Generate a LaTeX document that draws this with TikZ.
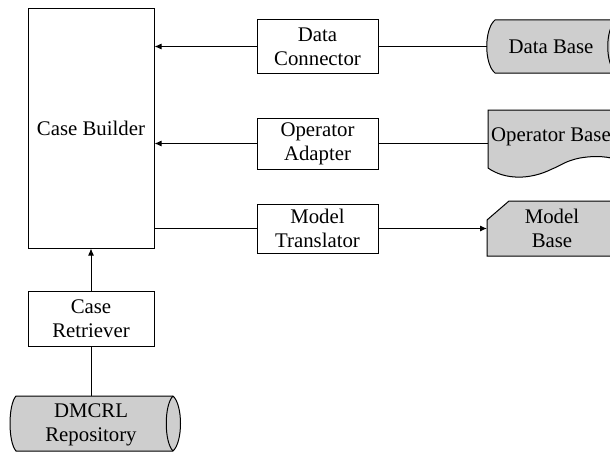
\documentclass[tikz,border=0pt]{standalone}
\usepackage{fontspec}
\setmainfont{Liberation Serif}
\usetikzlibrary{arrows.meta}
\definecolor{storefill}{RGB}{206,206,206}
\begin{document}
\begin{tikzpicture}[x=1pt,y=-1pt,
  lbl/.style={font=\fontsize{20.8}{24}\selectfont, align=center, inner sep=0pt},
  proc/.style={lbl, draw, line width=1pt, minimum width=121pt, minimum height=51pt},
  tall/.style={lbl, draw, line width=1pt, minimum width=126pt},
  store/.style={draw, line width=1pt, fill=storefill},
  link/.style={line width=1pt},
  flow/.style={link, -{Latex[length=7pt,width=6pt]}}]
\useasboundingbox (0,0) rectangle (610,452);

% --- storage shapes ---
% Data Base: horizontal cylinder, right end runs past the page edge
\draw[store] (495,20) -- (616,20) .. controls (627,29) and (627,64) .. (616,73)
  -- (495,73) .. controls (484,64) and (484,29) .. (495,20) -- cycle;
\draw[line width=1pt] (616,20) .. controls (605,29) and (605,64) .. (616,73);
% Operator Base: document shape with wavy bottom
\draw[store] (488,110) -- (620,110) -- (620,160)
  .. controls (608,157) and (598,155) .. (580,158)
  .. controls (565,161) and (560,166) .. (552,169)
  .. controls (530,180) and (505,180) .. (488,168) -- cycle;
% Model Base: card with cut corner
\draw[store] (509,201) -- (620,201) -- (620,256) -- (487,256) -- (487,220) -- cycle;
% DMCRL Repository: horizontal cylinder
\draw[store] (16,396) -- (173,396) .. controls (183,405) and (183,442) .. (173,451)
  -- (16,451) .. controls (8,442) and (8,405) .. (16,396) -- cycle;
\draw[line width=1pt] (173,396) .. controls (164,405) and (164,442) .. (173,451);

\node[lbl] (db) at (551,47) {Data Base};
\node[lbl] (ob) at (551,137) {Operator Base};
\node[lbl] (mb) at (552,228) {Model\\Base};
\node[lbl] (repo) at (91,425) {DMCRL\\Repository};

\coordinate (db-w) at (487,46.5);
\coordinate (ob-w) at (488,143.5);
\coordinate (mb-w) at (487,228.5);
\coordinate (repo-n) at (91,396);

% --- process boxes ---
\node[tall, minimum height=239pt] (cb) at (91,128.5) {Case Builder};
\node[tall, minimum height=55pt] (cr) at (91,318.5) {Case\\Retriever};
\node[proc, minimum height=53pt] (dc) at (317.5,46.5) {Data\\Connector};
\node[proc] (oa) at (317.5,143.5) {Operator\\Adapter};
\node[proc, minimum height=49pt] (mt) at (317.5,228.5) {Model\\Translator};

% --- connectors ---
\draw[link] (db-w) -- (dc.east);
\draw[flow] (dc.west) -- (cb.east |- dc.west);
\draw[link] (ob-w) -- (oa.east);
\draw[flow] (oa.west) -- (cb.east |- oa.west);
\draw[link] (cb.east |- mt.west) -- (mt.west);
\draw[flow] (mt.east) -- (mb-w);
\draw[flow] (cr.north) -- (cb.south);
\draw[link] (repo-n) -- (cr.south);
\end{tikzpicture}
\end{document}
